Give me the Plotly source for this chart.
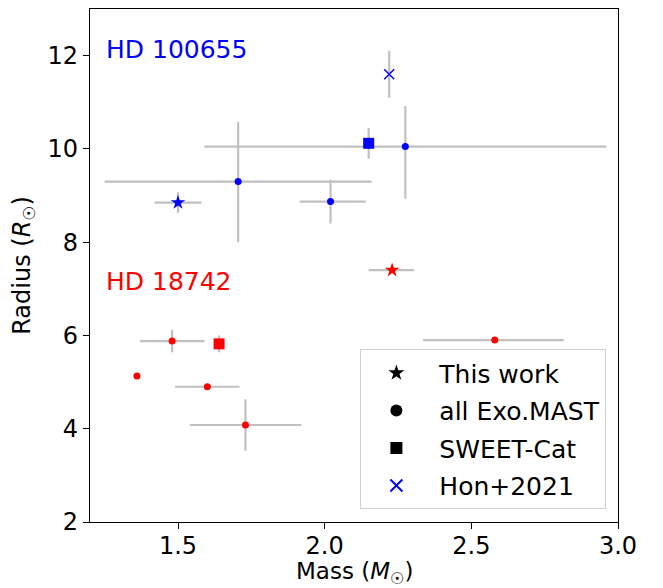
import plotly.graph_objects as go

# ---- data (mass in Msun, radius in Rsun) ----
# HD 100655 (blue)
b_work_m = [1.50]; b_work_r = [8.85]
b_work_mlo = [0.08]; b_work_mhi = [0.08]; b_work_rlo = [0.22]; b_work_rhi = [0.22]

b_mast_m = [1.705, 2.02, 2.275]
b_mast_r = [9.30, 8.87, 10.05]
b_mast_mlo = [0.455, 0.105, 0.685]; b_mast_mhi = [0.455, 0.12, 0.685]
b_mast_rlo = [1.30, 0.47, 1.12]; b_mast_rhi = [1.28, 0.47, 0.87]

b_sweet_m = [2.15]; b_sweet_r = [10.12]
b_sweet_rlo = [0.33]; b_sweet_rhi = [0.33]

b_hon_m = [2.22]; b_hon_r = [11.6]
b_hon_rlo = [0.5]; b_hon_rhi = [0.5]

# HD 18742 (red)
r_work_m = [2.23]; r_work_r = [7.40]
r_work_mlo = [0.08]; r_work_mhi = [0.075]

r_mast_m = [1.48, 1.36, 1.60, 1.73, 2.58]
r_mast_r = [5.88, 5.13, 4.90, 4.08, 5.90]
r_mast_mlo = [0.11, 0.0, 0.11, 0.19, 0.245]; r_mast_mhi = [0.11, 0.0, 0.11, 0.19, 0.235]
r_mast_rlo = [0.24, 0.0, 0.0, 0.55, 0.0]; r_mast_rhi = [0.24, 0.0, 0.0, 0.55, 0.0]

r_sweet_m = [1.64]; r_sweet_r = [5.82]
r_sweet_rlo = [0.18]; r_sweet_rhi = [0.18]

legend_names = ["This work", "all Exo.MAST", "SWEET-Cat", "Hon+2021"]

ERR = "#c0c0c0"

def eb(hi, lo):
    return dict(type="data", symmetric=False, array=hi, arrayminus=lo,
                color=ERR, thickness=2.2, width=0)

fig = go.Figure()

def add(x, y, color, symbol, size, ex=None, ey=None, line=None):
    kw = {}
    if ex is not None:
        kw["error_x"] = eb(*ex)
    if ey is not None:
        kw["error_y"] = eb(*ey)
    mk = dict(color=color, symbol=symbol, size=size)
    mk["line"] = line if line else dict(width=0)
    fig.add_trace(go.Scatter(x=x, y=y, mode="markers", marker=mk, showlegend=False, **kw))

# blue
add(b_mast_m, b_mast_r, "blue", "circle", 7, (b_mast_mhi, b_mast_mlo), (b_mast_rhi, b_mast_rlo))
add(b_work_m, b_work_r, "blue", "star", 11, (b_work_mhi, b_work_mlo), (b_work_rhi, b_work_rlo))
add(b_sweet_m, b_sweet_r, "blue", "square", 11, None, (b_sweet_rhi, b_sweet_rlo))
add(b_hon_m, b_hon_r, "blue", "x-thin", 10, None, (b_hon_rhi, b_hon_rlo), line=dict(color="blue", width=1.5))
# red
add(r_mast_m, r_mast_r, "red", "circle", 7, (r_mast_mhi, r_mast_mlo), (r_mast_rhi, r_mast_rlo))
add(r_work_m, r_work_r, "red", "star", 11, (r_work_mhi, r_work_mlo), None)
add(r_sweet_m, r_sweet_r, "red", "square", 11, None, (r_sweet_rhi, r_sweet_rlo))

# legend proxies
leg_style = [("black", "star", 10, None), ("black", "circle", 6, None),
             ("black", "square", 10, None), ("blue", "x-thin", 9, dict(color="blue", width=1.3))]
for name, (c, s, sz, ln) in zip(legend_names, leg_style):
    mk = dict(color=c, symbol=s, size=sz, line=ln if ln else dict(width=0))
    fig.add_trace(go.Scatter(x=[None], y=[None], mode="markers", marker=mk,
                             name="\u00a0" + name,
                             legendgroup=name, showlegend=True))

fig.add_annotation(x=0.026, y=0.922, xref="paper", yref="paper", text="HD 100655",
                   showarrow=False, xanchor="left", yanchor="middle",
                   font=dict(color="blue", size=25))
fig.add_annotation(x=0.026, y=0.469, xref="paper", yref="paper", text="HD 18742",
                   showarrow=False, xanchor="left", yanchor="middle",
                   font=dict(color="red", size=25))
# x-axis title placed as annotation so it sits where the reference has it
fig.add_annotation(x=0.5, y=-0.1, xref="paper", yref="paper",
                   text="Mass (<i>M</i><sub>☉</sub>)",
                   showarrow=False, xanchor="center", yanchor="middle",
                   font=dict(size=23, color="black"))

axis_common = dict(showline=True, linecolor="black", linewidth=1.2, mirror=True,
                   ticks="outside", ticklen=6, tickcolor="black", tickwidth=1.2,
                   showgrid=False, zeroline=False, tickfont=dict(size=24, color="black"))

fig.update_layout(
    width=663, height=588,
    margin=dict(l=82, r=53, t=1, b=74),
    plot_bgcolor="white", paper_bgcolor="white",
    font=dict(family="DejaVu Sans", color="black"),
    xaxis=dict(range=[1.2, 3.0], tickvals=[1.5, 2.0, 2.5, 3.0], ticktext=["1.5", "2.0", "2.5", "3.0"],
               ticklabelstandoff=-4, **axis_common),
    yaxis=dict(range=[2, 13], tickvals=[2, 4, 6, 8, 10, 12],
               title=dict(text="Radius (<i>R</i><sub>☉</sub>)", font=dict(size=24), standoff=10),
               **axis_common),
    legend=dict(x=0.978, y=0.025, xanchor="right", yanchor="bottom",
                bordercolor="#d0d0d0", borderwidth=1, bgcolor="rgba(255,255,255,0.8)",
                font=dict(size=25), tracegroupgap=2, traceorder="grouped",
                itemsizing="constant", itemwidth=60),
)

fig.write_html("out.html")
